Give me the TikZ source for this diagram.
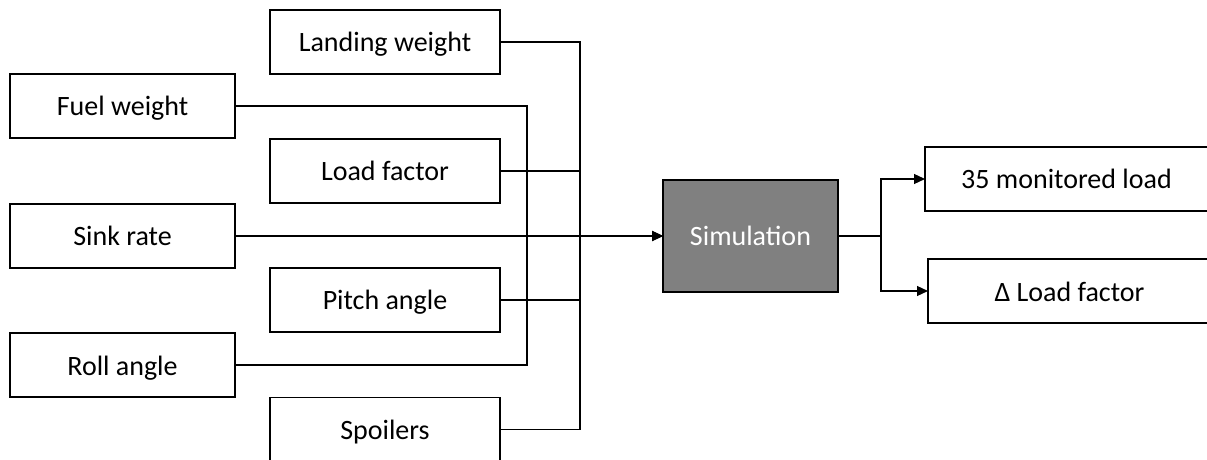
\documentclass[tikz,border=0pt]{standalone}
\usepackage{fontspec}
\setmainfont{Carlito}
\usetikzlibrary{arrows.meta}
\begin{document}
\begin{tikzpicture}[x=0.5pt,y=-0.5pt,
  inbox/.style={draw=black, line width=0.75pt, fill=white, inner sep=0pt, outer sep=0pt,
    minimum height=32pt, text height=10pt, text depth=0pt, font=\fontsize{14pt}{16pt}\selectfont},
  leftbox/.style={inbox, minimum width=112.5pt},
  midbox/.style={inbox, minimum width=115pt},
  outbox/.style={inbox, minimum width=141.5pt},
  simbox/.style={draw=black, line width=0.75pt, fill=black!50, text=white, inner sep=0pt, outer sep=0pt,
    minimum width=87.5pt, minimum height=56pt, text height=10pt, text depth=0pt,
    font=\fontsize{14pt}{16pt}\selectfont},
  wire/.style={draw=black, line width=0.6pt},
  arr/.style={wire, -{Triangle[length=5.5pt,width=5pt]}}]
\clip (0,0) rectangle (1207,460);
\fill[white] (0,0) rectangle (1207,460);

% input boxes
\node[midbox]  (lw) at (385,42)    {Landing weight};
\node[leftbox] (fw) at (122.5,106) {Fuel weight};
\node[midbox]  (lf) at (385,171)   {Load factor};
\node[leftbox] (sr) at (122.5,236) {Sink rate};
\node[midbox]  (pa) at (385,300)   {Pitch angle};
\node[leftbox] (ra) at (122.5,365) {Roll angle};
\node[midbox]  (sp) at (385,429.5) {Spoilers};

% simulation and outputs
\node[simbox] (sim) at (750.5,236) {Simulation};
\node[outbox] (o1) at (1066.5,179) {35 monitored load};
\node[outbox] (o2) at (1069.5,291) {Δ Load factor};

% bus coordinates
\coordinate (ib) at (527,236);
\coordinate (ob) at (580,236);
\coordinate (sj) at (881,236);

% inner bus: fuel weight and roll angle
\draw[wire] (fw.east) -| (ib);
\draw[wire] (ra.east) -| (ib);
% outer bus: landing weight, load factor, pitch angle, spoilers
\draw[wire] (lw.east) -| (ob);
\draw[wire] (lf.east) -| (ob);
\draw[wire] (pa.east) -| (ob);
\draw[wire] (sp.east) -| (ob);
% sink rate straight in
\draw[arr] (sr.east) -- (sim.west);
\draw[draw=black, line width=1.1pt, -{Triangle[length=5.5pt,width=5pt]}] (ob) -- (sim.west);

% outputs
\draw[wire] (sim.east) -- (sj);
\draw[arr] (sj) |- (o1.west);
\draw[arr] (sj) |- (o2.west);
\end{tikzpicture}
\end{document}
